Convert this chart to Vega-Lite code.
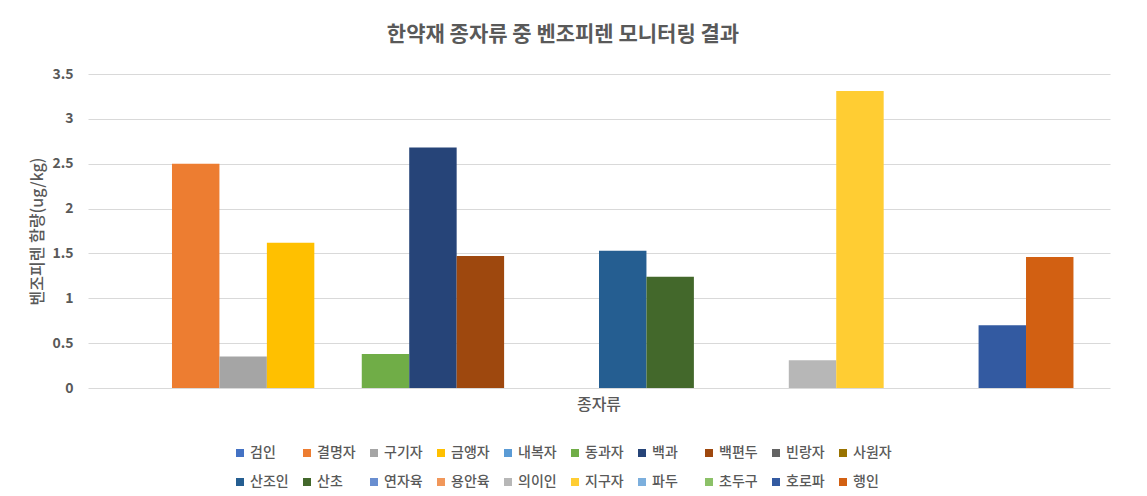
{
  "$schema": "https://vega.github.io/schema/vega-lite/v6.json",
  "autosize": {"type": "none"},
  "width": 1022,
  "height": 314,
  "padding": {"left": 88, "top": 74, "right": 37, "bottom": 108},
  "background": "white",
  "title": {
    "text": "한약재 종자류 중 벤조피렌 모니터링 결과",
    "font": "Noto Sans CJK KR",
    "fontSize": 21,
    "fontWeight": "bold",
    "color": "#595959",
    "anchor": "middle",
    "dx": -36,
    "offset": 22
  },
  "data": {
    "values": [
      {"group": "종자류", "series": "검인", "value": 0},
      {"group": "종자류", "series": "결명자", "value": 2.5},
      {"group": "종자류", "series": "구기자", "value": 0.35},
      {"group": "종자류", "series": "금앵자", "value": 1.62},
      {"group": "종자류", "series": "내복자", "value": 0},
      {"group": "종자류", "series": "동과자", "value": 0.38},
      {"group": "종자류", "series": "백과", "value": 2.68},
      {"group": "종자류", "series": "백편두", "value": 1.47},
      {"group": "종자류", "series": "빈랑자", "value": 0},
      {"group": "종자류", "series": "사원자", "value": 0},
      {"group": "종자류", "series": "산조인", "value": 1.53},
      {"group": "종자류", "series": "산초", "value": 1.24},
      {"group": "종자류", "series": "연자육", "value": 0},
      {"group": "종자류", "series": "용안육", "value": 0},
      {"group": "종자류", "series": "의이인", "value": 0.31},
      {"group": "종자류", "series": "지구자", "value": 3.31},
      {"group": "종자류", "series": "파두", "value": 0},
      {"group": "종자류", "series": "초두구", "value": 0},
      {"group": "종자류", "series": "호로파", "value": 0.7},
      {"group": "종자류", "series": "행인", "value": 1.46}
    ]
  },
  "mark": {"type": "bar"},
  "encoding": {
    "x": {
      "field": "group",
      "type": "nominal",
      "scale": {"paddingInner": 0, "paddingOuter": 0.0385},
      "axis": {
        "title": null,
        "labelAngle": 0,
        "ticks": false,
        "domain": false,
        "labelFont": "Noto Sans CJK KR",
        "labelFontSize": 16,
        "labelFontWeight": 500,
        "labelColor": "#595959",
        "labelPadding": 8
      }
    },
    "xOffset": {
      "field": "series",
      "type": "nominal",
      "sort": ["검인","결명자","구기자","금앵자","내복자","동과자","백과","백편두","빈랑자","사원자","산조인","산초","연자육","용안육","의이인","지구자","파두","초두구","호로파","행인"],
      "scale": {"paddingInner": 0, "paddingOuter": 0}
    },
    "y": {
      "field": "value",
      "type": "quantitative",
      "scale": {"domain": [0, 3.5], "nice": false},
      "axis": {
        "title": "벤조피렌 함량(ug/kg)",
        "titleFont": "Noto Sans CJK KR",
        "titleFontSize": 16,
        "titleFontWeight": 500,
        "titleColor": "#595959",
        "titlePadding": 6,
        "values": [0, 0.5, 1, 1.5, 2, 2.5, 3, 3.5],
        "format": "~g",
        "labelFont": "Noto Sans CJK KR",
        "labelFontSize": 14,
        "labelFontWeight": "bold",
        "labelColor": "#595959",
        "labelPadding": 15,
        "ticks": false,
        "domain": false,
        "grid": true,
        "gridColor": "#D9D9D9",
        "gridWidth": 1
      }
    },
    "color": {
      "field": "series",
      "type": "nominal",
      "scale": {
        "domain": ["검인","결명자","구기자","금앵자","내복자","동과자","백과","백편두","빈랑자","사원자","산조인","산초","연자육","용안육","의이인","지구자","파두","초두구","호로파","행인"],
        "range": ["#4472C4","#ED7D31","#A5A5A5","#FFC000","#5B9BD5","#70AD47","#264478","#9E480E","#636363","#997300","#255E91","#43682B","#698ED0","#F1975A","#B7B7B7","#FFCD33","#7CAFDD","#8CC168","#335AA1","#D26012"]
      },
      "legend": {
        "title": null,
        "orient": "none",
        "legendX": 145,
        "legendY": 372,
        "direction": "horizontal",
        "columns": 10,
        "gridAlign": "all",
        "columnPadding": 11,
        "rowPadding": 15,
        "padding": 0,
        "symbolType": "square",
        "symbolSize": 64,
        "symbolStrokeWidth": 0,
        "labelOffset": 3,
        "labelFont": "Noto Sans CJK KR",
        "labelFontSize": 14,
        "labelFontWeight": 500,
        "labelColor": "#595959",
        "labelLimit": 200
      }
    }
  },
  "config": {"view": {"stroke": null}}
}
